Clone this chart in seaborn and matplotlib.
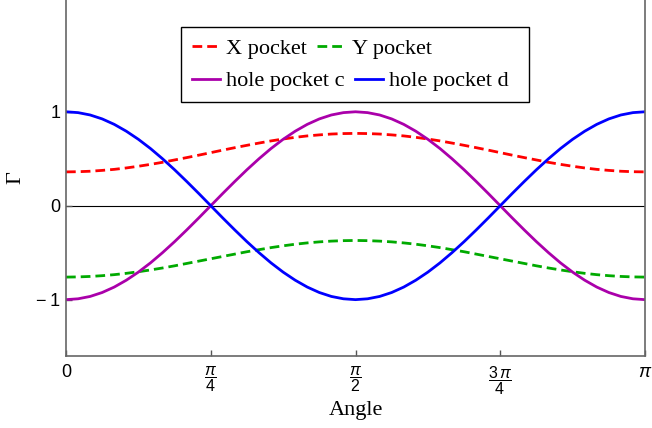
import numpy as np
import pandas as pd
import seaborn as sns
import matplotlib.pyplot as plt
from matplotlib.lines import Line2D
from matplotlib.patches import Rectangle

# angle grid: k*pi/48, k = 0..48
angle = np.pi / 48 * np.arange(49)

x_pocket = [0.360, 0.362, 0.367, 0.376, 0.387, 0.402, 0.420, 0.440, 0.462,
            0.487, 0.512, 0.538, 0.565, 0.592, 0.618, 0.643, 0.667, 0.690,
            0.710, 0.728, 0.743, 0.754, 0.763, 0.768, 0.770,
            0.768, 0.763, 0.754, 0.743, 0.728, 0.710, 0.690, 0.667, 0.643,
            0.618, 0.592, 0.565, 0.538, 0.512, 0.487, 0.462, 0.440, 0.420,
            0.402, 0.387, 0.376, 0.367, 0.362, 0.360]
y_pocket = [-0.760, -0.758, -0.753, -0.745, -0.734, -0.720, -0.703, -0.684,
            -0.663, -0.640, -0.615, -0.590, -0.565, -0.540, -0.515, -0.490,
            -0.468, -0.446, -0.427, -0.410, -0.396, -0.385, -0.377, -0.372,
            -0.370,
            -0.372, -0.377, -0.385, -0.396, -0.410, -0.427, -0.446, -0.468,
            -0.490, -0.515, -0.540, -0.565, -0.590, -0.615, -0.640, -0.663,
            -0.684, -0.703, -0.720, -0.734, -0.745, -0.753, -0.758, -0.760]
hole_c = [-1.000, -0.991, -0.966, -0.924, -0.866, -0.793, -0.707, -0.609,
          -0.500, -0.383, -0.259, -0.131, 0.000, 0.131, 0.259, 0.383, 0.500,
          0.609, 0.707, 0.793, 0.866, 0.924, 0.966, 0.991, 1.000,
          0.991, 0.966, 0.924, 0.866, 0.793, 0.707, 0.609, 0.500, 0.383,
          0.259, 0.131, 0.000, -0.131, -0.259, -0.383, -0.500, -0.609,
          -0.707, -0.793, -0.866, -0.924, -0.966, -0.991, -1.000]
hole_d = [1.000, 0.991, 0.966, 0.924, 0.866, 0.793, 0.707, 0.609, 0.500,
          0.383, 0.259, 0.131, 0.000, -0.131, -0.259, -0.383, -0.500, -0.609,
          -0.707, -0.793, -0.866, -0.924, -0.966, -0.991, -1.000,
          -0.991, -0.966, -0.924, -0.866, -0.793, -0.707, -0.609, -0.500,
          -0.383, -0.259, -0.131, 0.000, 0.131, 0.259, 0.383, 0.500, 0.609,
          0.707, 0.793, 0.866, 0.924, 0.966, 0.991, 1.000]

names = ['X pocket', 'Y pocket', 'hole pocket c', 'hole pocket d']
colors = {'X pocket': '#ff0000', 'Y pocket': '#00aa00',
          'hole pocket c': '#aa00aa', 'hole pocket d': '#0000ff'}
dash = (3.5, 1.8)
dashes = {'X pocket': dash, 'Y pocket': dash,
          'hole pocket c': '', 'hole pocket d': ''}

df = pd.concat([pd.DataFrame({'angle': angle, 'value': v, 'series': n})
                for n, v in zip(names, [x_pocket, y_pocket, hole_c, hole_d])])

plt.rcParams['mathtext.fontset'] = 'custom'
plt.rcParams['mathtext.rm'] = 'Liberation Sans'
plt.rcParams['mathtext.it'] = 'Liberation Sans:italic'

fig = plt.figure(figsize=(6.52, 4.28), dpi=100)
ax = fig.add_axes([66 / 652, 1 - 356 / 428, 579 / 652, 356 / 428])

ax.axhline(0, color='black', lw=0.8, zorder=1)
sns.lineplot(data=df, x='angle', y='value', hue='series', style='series',
             palette=colors, dashes=dashes, linewidth=2, legend=False, ax=ax)

ax.set_xlim(0, np.pi)
ax.set_ylim(-1.6, 2.19)
ax.set_xticks([0, np.pi / 4, np.pi / 2, 3 * np.pi / 4, np.pi])
ax.set_xticklabels(['0', r'$\dfrac{\pi}{4}$', r'$\dfrac{\pi}{2}$',
                    r'$\dfrac{3\,\pi}{4}$', r'$\pi$'])
ax.set_yticks([-1, 0, 1])
ax.set_yticklabels(['\u2212\u20091', '0', '1'])
for lab in ax.get_xticklabels() + ax.get_yticklabels():
    lab.set_fontfamily('Liberation Sans')
    lab.set_fontsize(13)
for lab in ax.get_xticklabels()[1:4]:
    lab.set_fontsize(11.5)
ax.tick_params(axis='both', direction='in', length=4, width=1, color='#555555')
ax.tick_params(axis='x', pad=6)
ax.tick_params(axis='y', pad=4)
ax.spines['top'].set_visible(False)
for s in ['left', 'right', 'bottom']:
    ax.spines[s].set_color('#666666')
    ax.spines[s].set_linewidth(1.2)

ax.set_xlabel('Angle', family='Liberation Serif', fontsize=16)
ax.set_ylabel('\u0393', family='Liberation Serif', fontsize=16)
ax.xaxis.set_label_coords(0.5, -0.125)
ax.yaxis.set_label_coords(-0.07, 0.5)

# legend box with two rows
box = Rectangle((181 / 652, 1 - 102 / 428), 348 / 652, 75 / 428,
                transform=fig.transFigure, facecolor='white',
                edgecolor='black', lw=1, zorder=4)
ax.add_patch(box)
box.set_clip_on(False)

def row(labels, ypix):
    hs = [Line2D([], [], color=colors[n], lw=2,
                 dashes=dashes[n] if dashes[n] else (None, None)) for n in labels]
    lg = ax.legend(hs, labels, ncol=2, frameon=False,
                   loc='center left', bbox_to_anchor=(192 / 652, 1 - ypix / 428),
                   bbox_transform=fig.transFigure, borderpad=0, borderaxespad=0,
                   handlelength=1.25, handletextpad=0.3, columnspacing=0.45,
                   prop={'family': 'Liberation Serif', 'size': 16})
    lg.set_zorder(5)
    return lg

ax.add_artist(row(names[:2], 49))
row(names[2:], 81)

fig.savefig('out.png', dpi=100)
